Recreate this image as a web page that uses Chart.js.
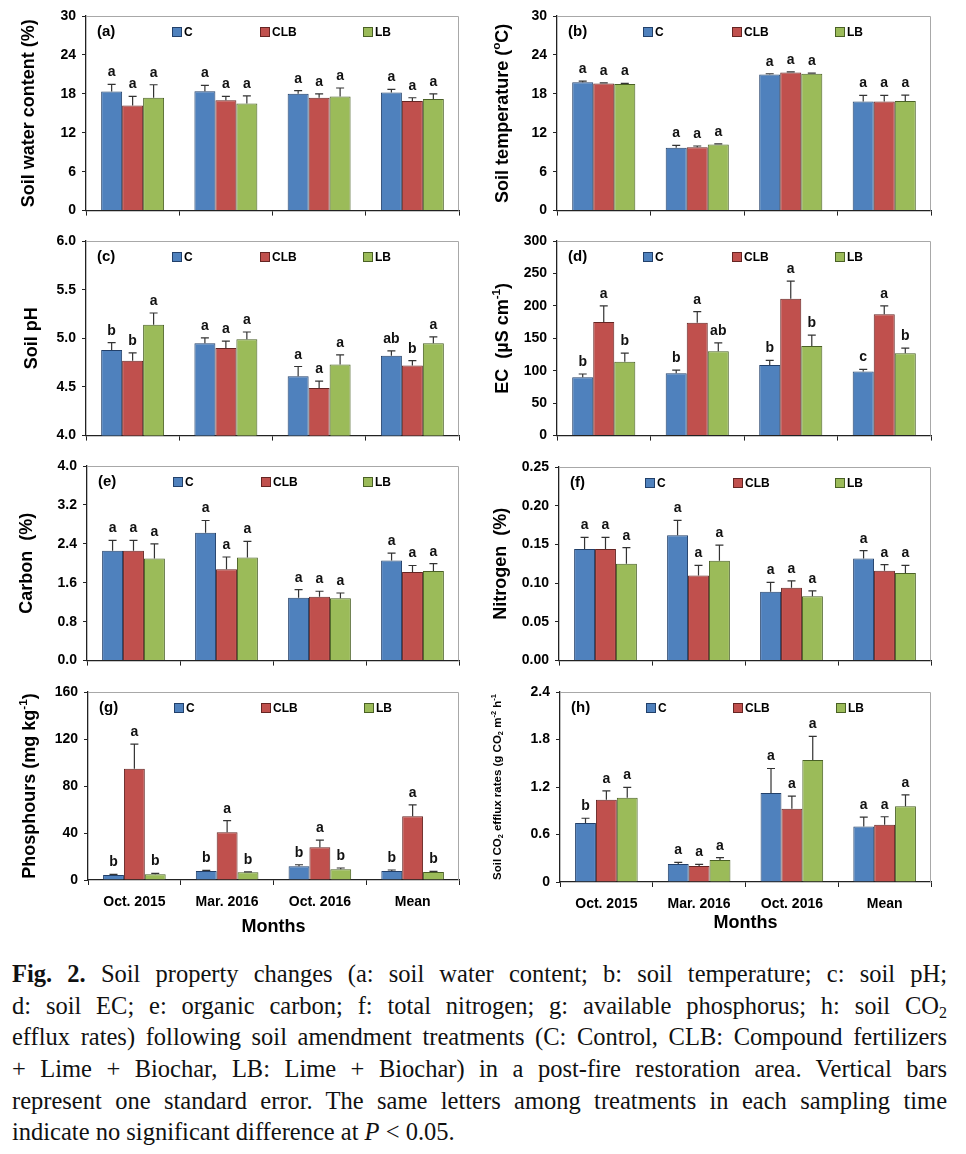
<!DOCTYPE html>
<html>
<head>
<meta charset="utf-8">
<script src="https://cdn.jsdelivr.net/npm/chart.js@4.4.0/dist/chart.umd.min.js"></script>
<style>
  body { margin: 0; background: #fff; width: 966px; height: 1154px; position: relative; overflow: hidden; }
  canvas { position: absolute; }
  #caption { position: absolute; left: 12px; top: 958px; width: 935px; font: 24.5px/31.7px "Liberation Serif", "Times New Roman", serif; color: #111; }
  #caption .ln { white-space: nowrap; height: 31.7px; }
  #caption .ln span { display: inline-block; }
  #caption sub { font-size: 16px; vertical-align: -4px; line-height: 0; }
</style>
</head>
<body>
<canvas id="pa"></canvas>
<canvas id="pb"></canvas>
<canvas id="pc"></canvas>
<canvas id="pd"></canvas>
<canvas id="pe"></canvas>
<canvas id="pf"></canvas>
<canvas id="pg"></canvas>
<canvas id="ph"></canvas>

<div id="caption">
  <div class="ln"><span><b>Fig. 2.</b> Soil property changes (a: soil water content; b: soil temperature; c: soil pH;</span></div>
  <div class="ln"><span>d: soil EC; e: organic carbon; f: total nitrogen; g: available phosphorus; h: soil CO<sub>2</sub></span></div>
  <div class="ln"><span>efflux rates) following soil amendment treatments (C: Control, CLB: Compound fertilizers</span></div>
  <div class="ln"><span>+ Lime + Biochar, LB: Lime + Biochar) in a post-fire restoration area. Vertical bars</span></div>
  <div class="ln"><span>represent one standard error. The same letters among treatments in each sampling time</span></div>
  <div class="ln last"><span>indicate no significant difference at <i>P</i> &lt; 0.05.</span></div>
</div>

<script>
// categories and treatments
const months = ['Oct. 2015', 'Mar. 2016', 'Oct. 2016', 'Mean'];
const treatments = ['C', 'CLB', 'LB'];

// (a) soil water content (%) - rows: C, CLB, LB
const waterMean = [[18.35, 18.4, 18.0, 18.2], [16.2, 17.0, 17.4, 16.9], [17.4, 16.5, 17.6, 17.2]];
const waterSe   = [[1.1, 0.9, 0.5, 0.5], [1.4, 0.6, 0.6, 0.5], [2.0, 1.2, 1.3, 0.8]];
const waterSig  = [['a', 'a', 'a', 'a'], ['a', 'a', 'a', 'a'], ['a', 'a', 'a', 'a']];

// (b) soil temperature (oC)
const tempMean = [[19.8, 9.7, 21.0, 16.8], [19.6, 9.76, 21.3, 16.8], [19.5, 10.2, 21.1, 16.9]];
const tempSe   = [[0.15, 0.35, 0.1, 0.95], [0.1, 0.2, 0.1, 0.95], [0.1, 0.1, 0.1, 0.9]];
const tempSig  = [['a', 'a', 'a', 'a'], ['a', 'a', 'a', 'a'], ['a', 'a', 'a', 'a']];

// (c) soil pH
const phMean = [[4.88, 4.95, 4.61, 4.82], [4.77, 4.90, 4.49, 4.72], [5.14, 4.99, 4.73, 4.95]];
const phSe   = [[0.075, 0.055, 0.10, 0.05], [0.08, 0.07, 0.07, 0.05], [0.12, 0.075, 0.10, 0.065]];
const phSig  = [['b', 'a', 'a', 'ab'], ['b', 'a', 'a', 'b'], ['a', 'a', 'a', 'a']];

// (d) EC (uS cm-1)
const ecMean = [[90, 96, 109, 99], [175, 174, 211, 187], [114, 130, 138, 127]];
const ecSe   = [[5, 5, 7, 3], [25, 17, 27, 13], [13, 13, 17, 8]];
const ecSig  = [['b', 'b', 'b', 'c'], ['a', 'a', 'a', 'a'], ['b', 'ab', 'b', 'b']];

// (e) carbon (%)
const carbonMean = [[2.26, 2.63, 1.29, 2.06], [2.26, 1.88, 1.31, 1.82], [2.10, 2.12, 1.28, 1.84]];
const carbonSe   = [[0.21, 0.25, 0.17, 0.15], [0.21, 0.25, 0.115, 0.135], [0.30, 0.33, 0.11, 0.155]];
const carbonSig  = [['a', 'a', 'a', 'a'], ['a', 'a', 'a', 'a'], ['a', 'a', 'a', 'a']];

// (f) nitrogen (%)
const nitroMean = [[0.144, 0.162, 0.089, 0.132], [0.144, 0.110, 0.094, 0.116], [0.125, 0.129, 0.083, 0.113]];
const nitroSe   = [[0.015, 0.019, 0.012, 0.010], [0.015, 0.013, 0.009, 0.008], [0.021, 0.020, 0.007, 0.010]];
const nitroSig  = [['a', 'a', 'a', 'a'], ['a', 'a', 'a', 'a'], ['a', 'a', 'a', 'a']];

// (g) phosphorus (mg kg-1)
const phosMean = [[4.3, 7.7, 11.6, 7.7], [94.6, 40.6, 27.8, 54.3], [4.8, 6.5, 9.1, 6.8]];
const phosSe   = [[0.5, 0.5, 1.4, 0.8], [21, 10, 6.2, 9.6], [0.9, 0.5, 1.1, 0.6]];
const phosSig  = [['b', 'b', 'b', 'b'], ['a', 'a', 'a', 'a'], ['b', 'b', 'b', 'b']];

// (h) soil CO2 efflux rates
const co2Mean = [[0.745, 0.227, 1.124, 0.70], [1.04, 0.202, 0.926, 0.724], [1.065, 0.278, 1.54, 0.956]];
const co2Se   = [[0.06, 0.02, 0.31, 0.12], [0.11, 0.02, 0.16, 0.10], [0.13, 0.03, 0.30, 0.145]];
const co2Sig  = [['b', 'a', 'a', 'a'], ['a', 'a', 'a', 'a'], ['a', 'a', 'a', 'a']];

const fills   = ['#4F81BD', '#C0504D', '#9BBB59'];
const borders = ['#22406a', '#652523', '#4a6125'];
const FONT = '"Liberation Sans", Arial, sans-serif';

// draws text made of [text, 'sup'|'sub'|undefined] pieces, centred on 0,0
function drawRich(ctx, segs, size) {
  const fontOf = s => 'bold ' + (s[1] ? size * 0.65 : size) + 'px ' + FONT;
  let total = 0;
  segs.forEach(s => { ctx.font = fontOf(s); total += ctx.measureText(s[0]).width; });
  let x = -total / 2;
  segs.forEach(s => {
    ctx.font = fontOf(s);
    const dy = s[1] === 'sup' ? -size * 0.36 : s[1] === 'sub' ? size * 0.24 : 0;
    ctx.fillText(s[0], x, dy);
    x += ctx.measureText(s[0]).width;
  });
}

const decor = {
  id: 'decor',
  beforeDatasetsDraw(chart) {
    const { ctx, chartArea: a } = chart;
    ctx.save();
    ctx.strokeStyle = '#a8a8a8';
    ctx.lineWidth = 1;
    ctx.beginPath();
    ctx.moveTo(a.left, a.top + 0.5);
    ctx.lineTo(a.right - 0.5, a.top + 0.5);
    ctx.lineTo(a.right - 0.5, a.bottom);
    ctx.stroke();
    ctx.restore();
  },
  afterDatasetsDraw(chart, args, o) {
    const { ctx, chartArea: a, scales: { y } } = chart;
    ctx.save();

    // error bars and significance letters
    chart.data.datasets.forEach((ds, di) => {
      chart.getDatasetMeta(di).data.forEach((bar, i) => {
        const top = y.getPixelForValue(ds.data[i] + ds.se[i]);
        ctx.strokeStyle = '#333';
        ctx.lineWidth = 1.2;
        ctx.beginPath();
        ctx.moveTo(bar.x, bar.y);
        ctx.lineTo(bar.x, top);
        ctx.moveTo(bar.x - 4, top);
        ctx.lineTo(bar.x + 4, top);
        ctx.stroke();
        ctx.fillStyle = '#111';
        ctx.font = 'bold 14px ' + FONT;
        ctx.textAlign = 'center';
        ctx.textBaseline = 'alphabetic';
        ctx.fillText(ds.sig[i], bar.x, top - 8);
      });
    });

    // panel tag and legend inside the plot
    const ly = a.top + 16;
    ctx.textBaseline = 'middle';
    ctx.textAlign = 'left';
    ctx.fillStyle = '#000';
    ctx.font = 'bold 15px ' + FONT;
    ctx.fillText(o.tag, a.left + 11, ly);
    [0.231, 0.467, 0.743].forEach((f, k) => {
      const bx = Math.round(a.left + f * a.width);
      ctx.fillStyle = fills[k];
      ctx.fillRect(bx, ly - 5, 10, 10);
      ctx.strokeStyle = borders[k];
      ctx.lineWidth = 1;
      ctx.strokeRect(bx + 0.5, ly - 4.5, 9, 9);
      ctx.fillStyle = '#000';
      ctx.font = 'bold 12px ' + FONT;
      ctx.fillText(treatments[k], bx + 12, ly + 1);
    });

    // y axis title
    ctx.translate(o.titleX, (a.top + a.bottom) / 2);
    ctx.rotate(-Math.PI / 2);
    ctx.fillStyle = '#000';
    ctx.textAlign = 'left';
    ctx.textBaseline = 'middle';
    drawRich(ctx, o.title, o.titleSize || 18);
    ctx.restore();
  }
};

function makePanel(id, cv, area, p) {
  const el = document.getElementById(id);
  el.width = cv.w; el.height = cv.h;
  el.style.left = cv.l + 'px'; el.style.top = cv.t + 'px';
  const showX = !!p.showX;
  new Chart(el, {
    type: 'bar',
    data: {
      labels: months,
      datasets: treatments.map((t, k) => ({
        label: t,
        data: p.mean[k],
        se: p.se[k],
        sig: p.sig[k],
        backgroundColor: fills[k],
        borderColor: borders[k],
        borderWidth: 1,
        barPercentage: 1,
        categoryPercentage: 0.675
      }))
    },
    options: {
      responsive: false,
      animation: false,
      layout: { padding: { left: 0, top: area.t - cv.t, right: cv.l + cv.w - area.r, bottom: 0 } },
      plugins: {
        legend: { display: false },
        tooltip: { enabled: false },
        decor: { tag: p.tag, title: p.title, titleX: p.titleX - cv.l, titleSize: p.titleSize }
      },
      scales: {
        x: {
          offset: true,
          grid: { display: true, drawOnChartArea: false, offset: true, tickLength: 5, color: '#222' },
          border: { color: '#222', width: 1.3 },
          ticks: { display: showX, color: '#000', padding: 9, maxRotation: 0, autoSkip: false,
                   font: { family: FONT, size: 14, weight: 'bold' } },
          title: { display: showX, text: 'Months', color: '#000', padding: { top: 0, bottom: 2 },
                   font: { family: FONT, size: 18, weight: 'bold' } },
          afterFit: s => { s.height = cv.t + cv.h - area.b; }
        },
        y: {
          min: p.min, max: p.max,
          grid: { drawOnChartArea: false, tickLength: 4, color: '#222' },
          border: { color: '#222', width: 1.3 },
          ticks: { stepSize: p.step, color: '#000', padding: 6, callback: p.fmt,
                   font: { family: FONT, size: 14, weight: 'bold' } },
          afterFit: s => { s.width = area.l - cv.l; }
        }
      }
    },
    plugins: [decor]
  });
}

const int = v => String(Math.round(v));
const one = v => v.toFixed(1);
const two = v => v.toFixed(2);

makePanel('pa', { l: 0, t: 0, w: 483, h: 225 }, { l: 86, t: 16, r: 459, b: 213 }, {
  mean: waterMean, se: waterSe, sig: waterSig, min: 0, max: 30, step: 6, fmt: int, tag: '(a)',
  title: [['Soil water content (%)']], titleX: 29 });
makePanel('pb', { l: 483, t: 0, w: 483, h: 225 }, { l: 557, t: 16, r: 931, b: 213 }, {
  mean: tempMean, se: tempSe, sig: tempSig, min: 0, max: 30, step: 6, fmt: int, tag: '(b)',
  title: [['Soil temperature ('], ['o', 'sup'], ['C)']], titleX: 503 });
makePanel('pc', { l: 0, t: 225, w: 483, h: 225 }, { l: 86, t: 241, r: 459, b: 438 }, {
  mean: phMean, se: phSe, sig: phSig, min: 4, max: 6, step: 0.5, fmt: one, tag: '(c)',
  title: [['Soil pH']], titleX: 32 });
makePanel('pd', { l: 483, t: 225, w: 483, h: 225 }, { l: 557, t: 241, r: 931, b: 438 }, {
  mean: ecMean, se: ecSe, sig: ecSig, min: 0, max: 300, step: 50, fmt: int, tag: '(d)',
  title: [['EC  (\u00b5S cm'], ['-1', 'sup'], [')']], titleX: 503 });
makePanel('pe', { l: 0, t: 450, w: 483, h: 225 }, { l: 87, t: 466, r: 459, b: 664 }, {
  mean: carbonMean, se: carbonSe, sig: carbonSig, min: 0, max: 4, step: 0.8, fmt: one, tag: '(e)',
  title: [['Carbon  (%)']], titleX: 27 });
makePanel('pf', { l: 483, t: 450, w: 483, h: 225 }, { l: 559, t: 467, r: 931, b: 665 }, {
  mean: nitroMean, se: nitroSe, sig: nitroSig, min: 0, max: 0.25, step: 0.05, fmt: two, tag: '(f)',
  title: [['Nitrogen  (%)']], titleX: 501 });
makePanel('pg', { l: 0, t: 675, w: 483, h: 265 }, { l: 88, t: 692, r: 459, b: 880 }, {
  mean: phosMean, se: phosSe, sig: phosSig, min: 0, max: 160, step: 40, fmt: int, tag: '(g)', showX: true,
  title: [['Phosphours (mg kg'], ['-1', 'sup'], [')']], titleX: 30 });
makePanel('ph', { l: 483, t: 675, w: 483, h: 261 }, { l: 560, t: 692, r: 931, b: 882 }, {
  mean: co2Mean, se: co2Se, sig: co2Sig, min: 0, max: 2.4, step: 0.6, fmt: v => (v === 0 ? '0' : v.toFixed(1)),
  tag: '(h)', showX: true, titleSize: 11.5,
  title: [['Soil CO'], ['2', 'sub'], [' efflux rates (g CO'], ['2', 'sub'], [' m'], ['-2', 'sup'], [' h'], ['-1', 'sup']],
  titleX: 498 });

// justify caption lines by spreading the word gaps
document.querySelectorAll('#caption .ln:not(.last) span').forEach(sp => {
  const gaps = (sp.textContent.match(/ /g) || []).length;
  const extra = 935 - sp.getBoundingClientRect().width;
  if (gaps) sp.style.wordSpacing = (extra / gaps) + 'px';
});
</script>
</body>
</html>
